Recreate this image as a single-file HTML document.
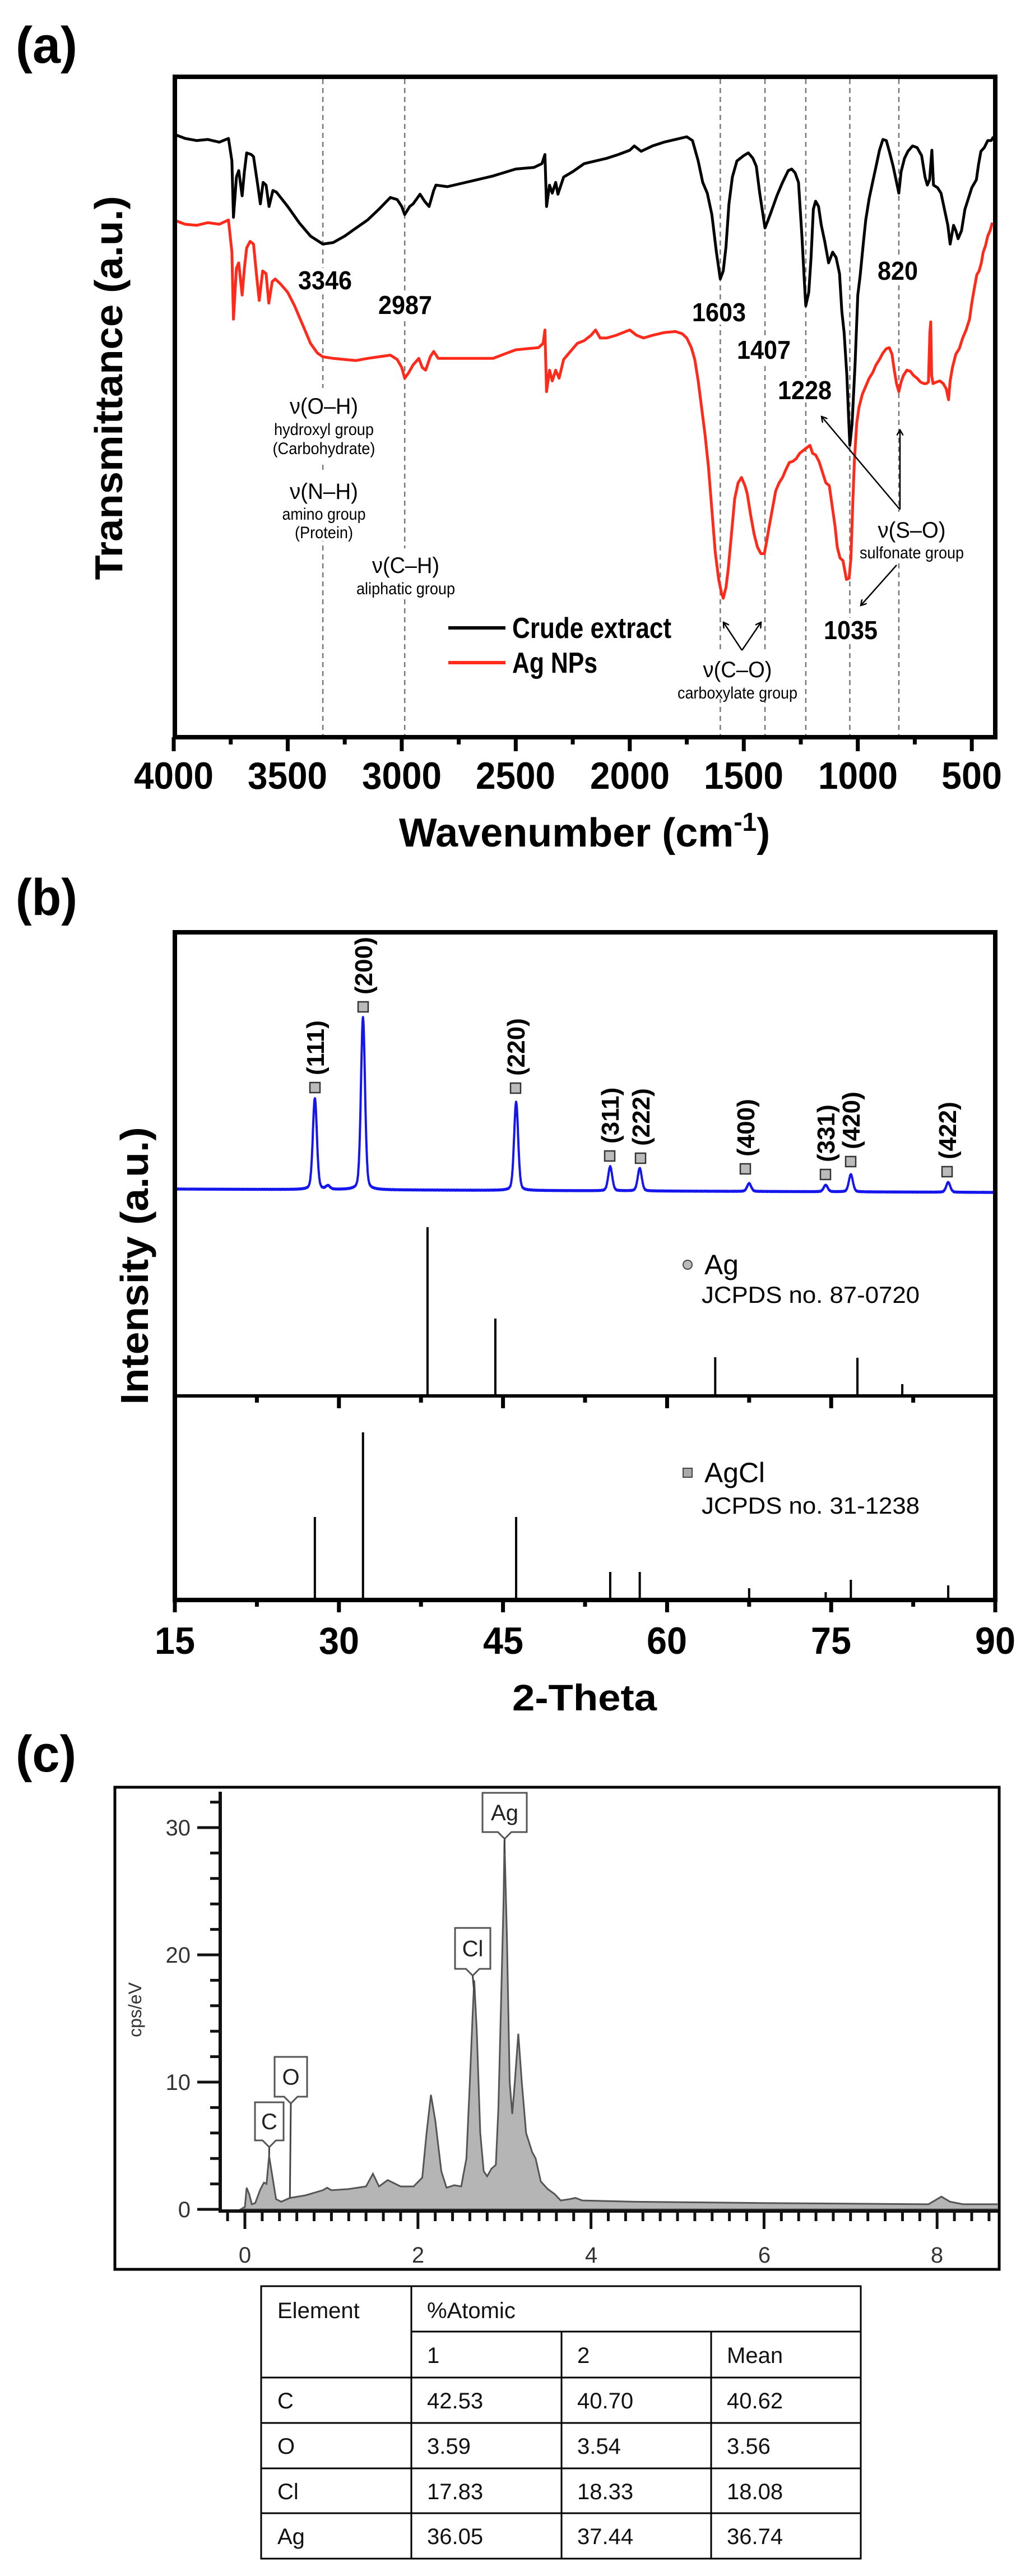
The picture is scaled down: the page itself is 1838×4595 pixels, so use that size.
<!DOCTYPE html>
<html><head><meta charset="utf-8"><style>
html,body{margin:0;padding:0;background:#fff}
svg{display:block}
text{font-family:"Liberation Sans",Arial,sans-serif}
.b{font-weight:bold}
</style></head><body>
<svg id="s" width="1838" height="4595" viewBox="0 0 1838 4595" xmlns="http://www.w3.org/2000/svg">
<rect width="1838" height="4595" fill="#fff"/>
<defs>
<marker id="ar" markerWidth="12" markerHeight="12" refX="10" refY="6" orient="auto" markerUnits="userSpaceOnUse"><path d="M0,0 L10,6 L0,12" fill="none" stroke="#000" stroke-width="2.5"/></marker>
</defs>

<!-- ===== Panel (a) ===== -->
<text x="28" y="112" class="b" font-size="92" textLength="110" lengthAdjust="spacingAndGlyphs">(a)</text>
<g id="adash" stroke="#777" stroke-width="2.5" stroke-dasharray="9,7"></g>
<g id="acurves"></g>
<rect x="312" y="137" width="1464" height="1178" fill="none" stroke="#000" stroke-width="8"/>
<g id="aticks" stroke="#000" stroke-width="7"></g>
<g class="b" font-size="68" text-anchor="middle">
<text x="310" y="1407" textLength="142" lengthAdjust="spacingAndGlyphs">4000</text>
<text x="513" y="1407" textLength="142" lengthAdjust="spacingAndGlyphs">3500</text>
<text x="717" y="1407" textLength="142" lengthAdjust="spacingAndGlyphs">3000</text>
<text x="920" y="1407" textLength="142" lengthAdjust="spacingAndGlyphs">2500</text>
<text x="1124" y="1407" textLength="142" lengthAdjust="spacingAndGlyphs">2000</text>
<text x="1327" y="1407" textLength="142" lengthAdjust="spacingAndGlyphs">1500</text>
<text x="1531" y="1407" textLength="142" lengthAdjust="spacingAndGlyphs">1000</text>
<text x="1734" y="1407" textLength="108" lengthAdjust="spacingAndGlyphs">500</text>
</g>
<text x="1043" y="1510" class="b" font-size="72" text-anchor="middle">Wavenumber (cm<tspan dy="-28" font-size="46">-1</tspan><tspan dy="28">)</tspan></text>
<text transform="translate(218,692) rotate(-90)" class="b" font-size="70" text-anchor="middle" textLength="685" lengthAdjust="spacingAndGlyphs">Transmittance (a.u.)</text>

<g class="b" font-size="46" text-anchor="middle">
<rect x="530" y="478" width="100" height="44" fill="#fff"/><text x="580" y="516" textLength="96" lengthAdjust="spacingAndGlyphs">3346</text>
<rect x="673" y="522" width="100" height="44" fill="#fff"/><text x="723" y="560" textLength="96" lengthAdjust="spacingAndGlyphs">2987</text>
<rect x="1233" y="535" width="100" height="44" fill="#fff"/><text x="1283" y="573" textLength="96" lengthAdjust="spacingAndGlyphs">1603</text>
<rect x="1313" y="602" width="100" height="44" fill="#fff"/><text x="1363" y="640" textLength="96" lengthAdjust="spacingAndGlyphs">1407</text>
<rect x="1386" y="674" width="100" height="44" fill="#fff"/><text x="1436" y="712" textLength="96" lengthAdjust="spacingAndGlyphs">1228</text>
<rect x="1566" y="461" width="74" height="44" fill="#fff"/><text x="1602" y="499" textLength="72" lengthAdjust="spacingAndGlyphs">820</text>
<rect x="1468" y="1102" width="100" height="44" fill="#fff"/><text x="1518" y="1140" textLength="96" lengthAdjust="spacingAndGlyphs">1035</text>
</g>
<g font-size="40" text-anchor="middle">
<rect x="515" y="692" width="126" height="130" fill="#fff"/>
<text x="578" y="738" textLength="122" lengthAdjust="spacingAndGlyphs">ν(O–H)</text>
<text x="578" y="776" font-size="30" textLength="178" lengthAdjust="spacingAndGlyphs">hydroxyl group</text>
<text x="578" y="810" font-size="30" textLength="183" lengthAdjust="spacingAndGlyphs">(Carbohydrate)</text>
<rect x="515" y="845" width="126" height="120" fill="#fff"/>
<text x="578" y="890" textLength="122" lengthAdjust="spacingAndGlyphs">ν(N–H)</text>
<text x="578" y="927" font-size="30" textLength="149" lengthAdjust="spacingAndGlyphs">amino group</text>
<text x="578" y="960" font-size="30" textLength="104" lengthAdjust="spacingAndGlyphs">(Protein)</text>
<rect x="640" y="978" width="170" height="85" fill="#fff"/>
<text x="724" y="1022" textLength="120" lengthAdjust="spacingAndGlyphs">ν(C–H)</text>
<text x="724" y="1060" font-size="30" textLength="176" lengthAdjust="spacingAndGlyphs">aliphatic group</text>
<rect x="1532" y="913" width="190" height="85" fill="#fff"/>
<text x="1627" y="959" textLength="121" lengthAdjust="spacingAndGlyphs">ν(S–O)</text>
<text x="1627" y="996" font-size="30" textLength="186" lengthAdjust="spacingAndGlyphs">sulfonate group</text>
<rect x="1206" y="1162" width="220" height="85" fill="#fff"/>
<text x="1316" y="1208" textLength="123" lengthAdjust="spacingAndGlyphs">ν(C–O)</text>
<text x="1316" y="1246" font-size="30" textLength="214" lengthAdjust="spacingAndGlyphs">carboxylate group</text>
</g>
<g stroke="#000" stroke-width="2.5" fill="none" marker-end="url(#ar)">
<line x1="1606" y1="909" x2="1466" y2="743"/>
<line x1="1606" y1="909" x2="1606" y2="767"/>
<line x1="1600" y1="1008" x2="1536" y2="1080"/>
<line x1="1324" y1="1160" x2="1291" y2="1110"/>
<line x1="1324" y1="1160" x2="1358" y2="1110"/>
</g>
<line x1="800" y1="1120" x2="902" y2="1120" stroke="#000" stroke-width="6"/>
<line x1="800" y1="1182" x2="902" y2="1182" stroke="#ff2a1a" stroke-width="6"/>
<text x="914" y="1138" class="b" font-size="52" textLength="284" lengthAdjust="spacingAndGlyphs">Crude extract</text>
<text x="914" y="1200" class="b" font-size="52" textLength="152" lengthAdjust="spacingAndGlyphs">Ag NPs</text>

<!-- ===== Panel (b) ===== -->
<text x="28" y="1632" class="b" font-size="92" textLength="110" lengthAdjust="spacingAndGlyphs">(b)</text>
<g id="bcurves"></g>
<rect x="312" y="1663" width="1464" height="1191" fill="none" stroke="#000" stroke-width="8"/>
<line x1="312" y1="2490" x2="1776" y2="2490" stroke="#000" stroke-width="6"/>
<g id="bticks" stroke="#000" stroke-width="7"></g>
<g class="b" font-size="68" text-anchor="middle">
<text x="312" y="2950" textLength="72" lengthAdjust="spacingAndGlyphs">15</text>
<text x="605" y="2950" textLength="72" lengthAdjust="spacingAndGlyphs">30</text>
<text x="898" y="2950" textLength="72" lengthAdjust="spacingAndGlyphs">45</text>
<text x="1190" y="2950" textLength="72" lengthAdjust="spacingAndGlyphs">60</text>
<text x="1483" y="2950" textLength="72" lengthAdjust="spacingAndGlyphs">75</text>
<text x="1776" y="2950" textLength="72" lengthAdjust="spacingAndGlyphs">90</text>
</g>
<text x="1043" y="3051" class="b" font-size="66" text-anchor="middle" textLength="258" lengthAdjust="spacingAndGlyphs">2-Theta</text>
<text transform="translate(264,2258) rotate(-90)" class="b" font-size="70" text-anchor="middle" textLength="495" lengthAdjust="spacingAndGlyphs">Intensity (a.u.)</text>
<g id="blabels"></g>
<circle cx="1227" cy="2256" r="8" fill="#bbb" stroke="#444" stroke-width="2"/>
<text x="1257" y="2273" font-size="50" textLength="61" lengthAdjust="spacingAndGlyphs">Ag</text>
<text x="1252" y="2324" font-size="42" textLength="389" lengthAdjust="spacingAndGlyphs">JCPDS no. 87-0720</text>
<rect x="1219" y="2619" width="16" height="16" fill="#aaa" stroke="#444" stroke-width="2"/>
<text x="1257" y="2644" font-size="50" textLength="108" lengthAdjust="spacingAndGlyphs">AgCl</text>
<text x="1252" y="2700" font-size="42" textLength="389" lengthAdjust="spacingAndGlyphs">JCPDS no. 31-1238</text>

<!-- ===== Panel (c) ===== -->
<text x="28" y="3160" class="b" font-size="92" textLength="108" lengthAdjust="spacingAndGlyphs">(c)</text>
<rect x="205" y="3188" width="1578" height="860" fill="none" stroke="#000" stroke-width="5"/>
<g id="ccurves"></g>
<g id="cticks" stroke="#111" stroke-width="5"></g>
<line x1="393" y1="3196" x2="393" y2="3944" stroke="#111" stroke-width="6"/>
<line x1="390" y1="3944" x2="1781" y2="3944" stroke="#111" stroke-width="6"/>
<g font-size="40" fill="#333" text-anchor="end">
<text x="340" y="3955">0</text><text x="340" y="3728">10</text><text x="340" y="3501">20</text><text x="340" y="3274">30</text>
</g>
<g font-size="40" fill="#333" text-anchor="middle">
<text x="437" y="4036">0</text><text x="746" y="4036">2</text><text x="1055" y="4036">4</text><text x="1364" y="4036">6</text><text x="1672" y="4036">8</text>
</g>
<text transform="translate(252,3585) rotate(-90)" font-size="32" fill="#333" text-anchor="middle">cps/eV</text>
<g id="cboxes" font-size="40" fill="#222" text-anchor="middle"></g>

<!-- table -->
<g stroke="#000" stroke-width="3" fill="none">
<rect x="466" y="4078" width="1070" height="486"/>
<line x1="734" y1="4078" x2="734" y2="4564"/>
<line x1="1002" y1="4159" x2="1002" y2="4564"/>
<line x1="1269" y1="4159" x2="1269" y2="4564"/>
<line x1="734" y1="4159" x2="1536" y2="4159"/>
<line x1="466" y1="4241" x2="1536" y2="4241"/>
<line x1="466" y1="4322" x2="1536" y2="4322"/>
<line x1="466" y1="4403" x2="1536" y2="4403"/>
<line x1="466" y1="4483" x2="1536" y2="4483"/>
</g>
<g font-size="40" fill="#111">
<text x="495" y="4135">Element</text><text x="762" y="4135">%Atomic</text>
<text x="762" y="4215">1</text><text x="1030" y="4215">2</text><text x="1297" y="4215">Mean</text>
<text x="495" y="4296">C</text><text x="762" y="4296">42.53</text><text x="1030" y="4296">40.70</text><text x="1297" y="4296">40.62</text>
<text x="495" y="4377">O</text><text x="762" y="4377">3.59</text><text x="1030" y="4377">3.54</text><text x="1297" y="4377">3.56</text>
<text x="495" y="4458">Cl</text><text x="762" y="4458">17.83</text><text x="1030" y="4458">18.33</text><text x="1297" y="4458">18.08</text>
<text x="495" y="4538">Ag</text><text x="762" y="4538">36.05</text><text x="1030" y="4538">37.44</text><text x="1297" y="4538">36.74</text>
</g>
</svg>
<script>
var NS="http://www.w3.org/2000/svg";
function el(p,t,a,txt){var e=document.createElementNS(NS,t);for(var k in a)e.setAttribute(k,a[k]);if(txt!=null)e.textContent=txt;p.appendChild(e);return e;}
function $(i){return document.getElementById(i);}
// panel a
function XA(w){return 310+(4000-w)*0.4069;}
[3346,2987,1603,1407,1228,1035,820].forEach(function(w){el($("adash"),"line",{x1:XA(w),y1:141,x2:XA(w),y2:1311});});
for(var w=4000;w>=500;w-=250){var maj=(w%500==0);el($("aticks"),"line",{x1:XA(w),y1:1315,x2:XA(w),y2:maj?1340:1328});}
var blk=[[4000,250],[3950,258],[3900,262],[3850,260],[3800,265],[3760,258],[3745,300],[3738,405],[3725,330],[3715,318],[3700,365],[3690,320],[3680,285],[3660,288],[3650,292],[3630,350],[3620,380],[3608,340],[3595,345],[3582,385],[3565,355],[3550,358],[3500,385],[3450,415],[3400,440],[3346,455],[3300,452],[3250,440],[3200,425],[3150,410],[3100,390],[3050,368],[3020,372],[3000,385],[2987,400],[2965,385],[2950,380],[2920,362],[2900,375],[2880,385],[2860,355],[2850,345],[2800,348],[2700,338],[2600,328],[2500,315],[2420,312],[2385,305],[2372,288],[2365,385],[2352,345],[2340,360],[2325,340],[2315,362],[2290,330],[2250,320],[2200,305],[2150,300],[2100,295],[2050,288],[2000,280],[1980,272],[1950,282],[1900,272],[1850,265],[1800,260],[1750,255],[1725,262],[1700,300],[1680,340],[1660,360],[1640,400],[1620,470],[1603,520],[1590,505],[1578,460],[1565,380],[1550,330],[1530,300],[1500,290],[1480,285],[1460,295],[1445,310],[1430,360],[1407,425],[1395,412],[1380,395],[1355,365],[1330,340],[1305,318],[1290,315],[1275,322],[1260,340],[1245,440],[1235,520],[1228,570],[1215,545],[1205,480],[1195,390],[1185,375],[1172,385],[1160,420],[1145,450],[1128,490],[1110,470],[1095,480],[1080,510],[1070,580],[1060,620],[1048,700],[1040,780],[1035,830],[1025,790],[1012,680],[1000,550],[990,515],[975,450],[965,410],[950,370],[935,340],[920,310],[905,280],[890,260],[875,262],[860,285],[845,310],[830,340],[820,360],[810,320],[795,295],[780,282],[760,272],[740,275],[720,290],[705,330],[695,345],[685,335],[675,280],[668,345],[650,350],[635,360],[620,390],[605,420],[595,455],[580,420],[570,430],[560,445],[545,430],[530,390],[515,370],[500,350],[480,335],[470,305],[460,282],[445,275],[430,262],[415,262],[405,255]];
var red=[[4000,410],[3950,418],[3900,420],[3850,415],[3800,418],[3760,410],[3745,470],[3738,595],[3725,500],[3715,490],[3700,550],[3690,500],[3680,462],[3665,450],[3650,455],[3635,520],[3625,560],[3610,505],[3595,510],[3583,565],[3568,525],[3555,520],[3530,530],[3500,545],[3470,570],[3450,590],[3420,620],[3400,640],[3370,658],[3346,665],[3300,668],[3250,670],[3200,672],[3150,668],[3100,665],[3050,662],[3020,670],[3000,685],[2987,705],[2970,695],[2950,680],[2925,668],[2910,685],[2895,690],[2875,665],[2860,655],[2840,668],[2800,668],[2700,668],[2600,668],[2550,660],[2500,652],[2450,650],[2400,648],[2380,640],[2372,615],[2365,730],[2352,690],[2340,710],[2325,690],[2310,705],[2290,670],[2260,655],[2230,640],[2200,635],[2170,625],[2150,615],[2130,630],[2100,630],[2060,625],[2000,615],[1970,625],[1940,630],[1900,625],[1850,620],[1800,618],[1770,622],[1750,630],[1730,648],[1715,670],[1700,710],[1685,760],[1670,810],[1655,870],[1640,950],[1625,1030],[1610,1080],[1598,1105],[1590,1115],[1578,1095],[1568,1060],[1555,1000],[1540,930],[1525,900],[1510,890],[1495,905],[1485,920],[1470,960],[1455,995],[1440,1020],[1425,1032],[1410,1032],[1400,1010],[1390,985],[1375,950],[1360,915],[1345,900],[1330,890],[1315,875],[1300,862],[1285,860],[1270,855],[1255,845],[1240,840],[1225,835],[1210,830],[1198,845],[1185,848],[1170,860],[1155,880],[1140,900],[1125,905],[1110,950],[1100,980],[1090,1020],[1078,1040],[1065,1045],[1050,1080],[1038,1078],[1030,1040],[1022,940],[1015,860],[1005,790],[995,760],[980,735],[965,720],[950,705],[935,695],[920,680],[905,670],[890,658],[875,650],[862,648],[850,660],[840,690],[830,715],[820,730],[810,712],[800,700],[785,690],[770,692],[755,700],[740,705],[725,712],[710,715],[700,715],[690,712],[684,620],[680,600],[676,700],[670,715],[655,712],[640,710],[625,715],[612,725],[602,745],[595,710],[585,685],[570,660],[555,650],[540,630],[525,615],[510,595],[500,565],[490,540],[478,512],[468,505],[458,490],[450,470],[440,458],[430,440],[420,430],[410,415]];
function pathA(arr){return arr.map(function(p,i){return (i?"L":"M")+XA(p[0]).toFixed(1)+","+(p[1]*0.957).toFixed(1);}).join("");}
el($("acurves"),"path",{d:pathA(blk),fill:"none",stroke:"#000","stroke-width":5,"stroke-linejoin":"round"});
el($("acurves"),"path",{d:pathA(red),fill:"none",stroke:"#ff2a1a","stroke-width":5,"stroke-linejoin":"round"});
// panel b
function XB(t){return 312+(t-15)*19.52;}
for(var t=15;t<=90;t+=7.5){var maj=(t%15==0);[2490,2854].forEach(function(y){el($("bticks"),"line",{x1:XB(t),y1:y,x2:XB(t),y2:y+(maj?22:12)});});}
// [2theta, top y]
var peaks=[[27.8,1959],[29.0,2116],[32.2,1815],[46.2,1966],[54.8,2081],[57.5,2084],[67.5,2111],[74.5,2114],[76.8,2095],[85.7,2109]];
var d="";for(var i=0;i<=3000;i++){var t=15+i*0.025;var base=2121+(t-15)/75*6;var y=base;
peaks.forEach(function(p){var pb=2121+(p[0]-15)/75*6;var h=pb-p[1];var g=0.22;var dx=t-p[0];
var L=(g*g)/(dx*dx+g*g);var G=Math.exp(-Math.log(2)*dx*dx/(g*g));y-=h*(0.75*G+0.25*L);});
y+=Math.sin(i*2.3)*0.8;d+=(i?"L":"M")+XB(t).toFixed(1)+","+y.toFixed(1);}
el($("bcurves"),"path",{d:d,fill:"none",stroke:"#1515ee","stroke-width":4,"stroke-linejoin":"round"});
[[38.1,2189,2490],[44.3,2352,2490],[64.4,2421,2490],[77.4,2422,2490],[81.5,2469,2490],[27.8,2706,2854],[32.2,2555,2854],[46.2,2706,2854],[54.8,2804,2854],[57.5,2804,2854],[67.5,2833,2854],[74.5,2840,2854],[76.8,2818,2854],[85.7,2828,2854]].forEach(function(s){el($("bcurves"),"line",{x1:XB(s[0]),y1:s[1],x2:XB(s[0]),y2:s[2],stroke:"#000","stroke-width":4});});
[["(111)",562,1940],["(200)",648,1796],["(220)",920,1941],["(311)",1088,2062],["(222)",1143,2066],["(400)",1330,2085],["(331)",1473,2095],["(420)",1518,2072],["(422)",1690,2090]].forEach(function(l){
el($("blabels"),"rect",{x:l[1]-9,y:l[2]-9,width:18,height:18,fill:"#bbb",stroke:"#333","stroke-width":2.5});
el($("blabels"),"text",{transform:"translate("+(l[1]+16)+","+(l[2]-22)+") rotate(-90)","font-size":44,"font-weight":"bold"},l[0]);});
// panel c
function XC(e){return 437+e*154.4;} function YC(v){return 3941-v*22.7;}
for(var v=0;v<=32;v+=2){var maj=(v%10==0);el($("cticks"),"line",{x1:maj?352:375,y1:YC(v),x2:393,y2:YC(v)});}
for(var k=-1;k<=44;k++){var e=k*0.2;var x=XC(e);if(x<395||x>1778)continue;var maj=(k%10==0);el($("cticks"),"line",{x1:x,y1:3944,x2:x,y2:maj?3976:3962});}
var sp=[[-0.05,0],[0,0.2],[0.02,1.7],[0.05,1.2],[0.08,0.4],[0.12,0.5],[0.18,1.6],[0.22,2.1],[0.25,2.0],[0.28,4.2],[0.32,2.5],[0.36,0.8],[0.42,0.6],[0.52,0.9],[0.7,1.1],[0.9,1.5],[0.95,1.7],[1.0,1.5],[1.2,1.6],[1.4,1.8],[1.48,2.8],[1.55,1.8],[1.65,2.3],[1.8,1.8],[1.95,1.8],[2.05,2.5],[2.1,6],[2.15,9],[2.2,7],[2.27,3],[2.33,1.7],[2.42,1.9],[2.5,1.8],[2.56,4],[2.6,10],[2.63,15],[2.65,18],[2.68,14],[2.72,6],[2.76,3],[2.8,2.6],[2.85,3.2],[2.9,3.5],[2.93,8],[2.96,16],[2.99,24.5],[3.0,29],[3.03,21],[3.06,10],[3.09,7.5],[3.12,10],[3.16,13.8],[3.2,10],[3.25,6],[3.32,4.5],[3.36,4],[3.42,2.2],[3.5,1.6],[3.58,1.2],[3.65,0.7],[3.75,0.8],[3.82,0.9],[3.9,0.7],[4.5,0.6],[6,0.5],[7.9,0.4],[8.0,0.8],[8.05,1.0],[8.15,0.6],[8.3,0.4],[8.92,0.4],[8.92,0]];
var dc=sp.map(function(p,i){return (i?"L":"M")+XC(p[0]).toFixed(1)+","+YC(p[1]).toFixed(1);}).join("");
var clipR=el($("ccurves"),"clipPath",{id:"cc"});el(clipR,"rect",{x:395,y:3190,width:1385,height:752});
el($("ccurves"),"path",{d:dc+"Z",fill:"#b5b5b5",stroke:"#555","stroke-width":3,"clip-path":"url(#cc)"});
function box(lbl,x1,y1,x2,y2,px,py){var g=$("cboxes");var cx=(x1+x2)/2;
el(g,"path",{d:"M"+x1+","+y1+"H"+x2+"V"+y2+"H"+(cx+12)+"L"+cx+","+(y2+12)+"L"+(cx-12)+","+y2+"H"+x1+"Z",fill:"#fff",stroke:"#555","stroke-width":3});
el(g,"line",{x1:cx,y1:y2+12,x2:px,y2:py,stroke:"#444","stroke-width":3});
el(g,"text",{x:cx,y:(y1+y2)/2+14},lbl);}
box("Ag",861,3198,940,3268,XC(3.0),YC(28));
box("Cl",812,3439,875,3512,XC(2.65),YC(17));
box("O",490,3669,548,3740,XC(0.52),YC(0.9));
box("C",455,3750,506,3818,XC(0.28),YC(4.2));
</script>
</body></html>
